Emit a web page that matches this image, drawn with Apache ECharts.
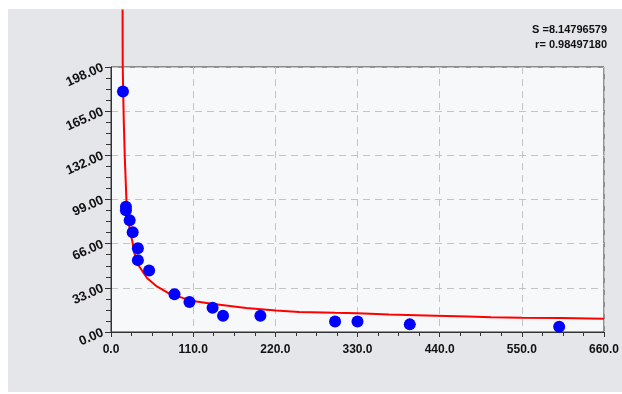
<!DOCTYPE html>
<html>
<head>
<meta charset="utf-8">
<script src="https://cdn.jsdelivr.net/npm/echarts@6/dist/echarts.min.js"></script>
<style>
  html, body { margin: 0; padding: 0; background: #ffffff; }
  #chart { width: 622px; height: 394px; }
</style>
</head>
<body>
<div id="chart"></div>
<script>
// Measured samples
const sampleX = [16, 20, 20, 25, 29, 36, 36, 51, 85, 105, 136, 150, 200, 300, 330, 400, 600];
const sampleY = [179.7, 93.5, 91.0, 83.5, 74.5, 62.6, 53.7, 45.9, 28.2, 22.5, 18.1, 12.2, 12.2, 7.8, 7.9, 5.7, 4.0];

// Fitted curve, as plotted
const fitX = [15.5, 15.7, 16.3, 17.0, 18.4, 20.6, 23.0, 25.5, 28.2, 31.3, 37.9, 48.1, 61.4, 76.9, 96.9, 114.6, 134.6, 181, 221, 252, 300, 330, 372, 434, 478, 509, 550, 602, 660];
const fitY = [241, 198, 180, 160, 131.6, 99.1, 85.0, 75.0, 68.8, 58.9, 48.9, 40.3, 34.0, 29.1, 25.3, 22.8, 21.1, 17.9, 16.1, 14.9, 14.3, 14.0, 13.1, 12.2, 11.6, 11.0, 10.7, 10.4, 9.9];

// Axis ranges and fit statistics
const xRange = { min: 0, max: 660, step: 110 };
const yRange = { min: 0, max: 198, step: 33 };
const statLines = ['S =8.14796579', 'r= 0.98497180'];

const points = sampleX.map((x, i) => [x, sampleY[i]]);
const curve = fitX.map((x, i) => [x, fitY[i]]);

const fontFamily = 'Liberation Sans, Arial, sans-serif';
const gridDash = { show: true, lineStyle: { color: '#c4c4c4', type: [7, 5], width: 1 } };

const chart = echarts.init(document.getElementById('chart'), null, { renderer: 'canvas' });
chart.setOption({
  animation: false,
  backgroundColor: 'transparent',
  graphic: [
    { type: 'rect', z: -10, shape: { x: 8, y: 9, width: 614, height: 383 }, style: { fill: '#e5e6ea' } },
    { type: 'text', right: 15, top: 24, style: { text: statLines[0], font: 'bold 11px "Liberation Sans", Arial, sans-serif', fill: '#111', textAlign: 'right' } },
    { type: 'text', right: 15, top: 39, style: { text: statLines[1], font: 'bold 11px "Liberation Sans", Arial, sans-serif', fill: '#111', textAlign: 'right' } }
  ],
  grid: {
    left: 111, right: 15, top: 67, bottom: 62,
    show: true, backgroundColor: '#f7f8fa', borderColor: '#333', borderWidth: 1
  },
  xAxis: {
    type: 'value', min: xRange.min, max: xRange.max, interval: xRange.step,
    axisLine: { show: true, lineStyle: { color: '#333' } },
    axisTick: { show: true, length: 5, lineStyle: { color: '#333' } },
    minorTick: { show: true, splitNumber: 4, length: 4, lineStyle: { color: '#333' } },
    splitLine: gridDash,
    axisLabel: { margin: 12, fontFamily, fontWeight: 'bold', fontSize: 12, color: '#111', formatter: v => v.toFixed(1) }
  },
  yAxis: {
    type: 'value', min: yRange.min, max: yRange.max, interval: yRange.step,
    axisLine: { show: true, lineStyle: { color: '#333' } },
    axisTick: { show: true, length: 6, lineStyle: { color: '#333' } },
    minorTick: { show: true, splitNumber: 4, length: 5, lineStyle: { color: '#333' } },
    splitLine: gridDash,
    axisLabel: { margin: 8, rotate: 24, padding: [6, 0, 0, 0], fontFamily, fontWeight: 'bold', fontSize: 13, color: '#111', formatter: v => v.toFixed(2) }
  },
  series: [
    {
      type: 'line', data: curve, showSymbol: false, smooth: false, clip: false,
      lineStyle: { color: '#ff0000', width: 2 }, z: 3
    },
    {
      type: 'scatter', data: points, symbol: 'circle', symbolSize: 12,
      itemStyle: { color: '#0000ff', opacity: 1 }, z: 4
    }
  ]
});
</script>
</body>
</html>
